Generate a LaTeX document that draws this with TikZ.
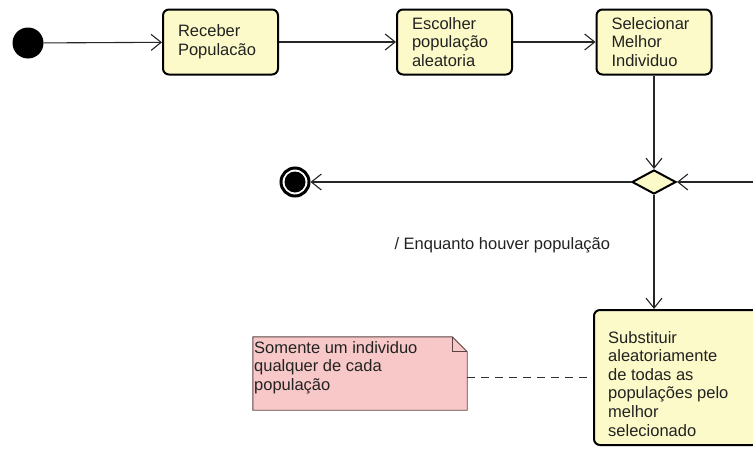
\documentclass[tikz,border=0pt]{standalone}
\usepackage{fontspec}
\setmainfont{Liberation Sans}
\usetikzlibrary{arrows.meta,shapes.geometric}

\definecolor{actfill}{HTML}{FCFAC8}
\definecolor{notefill}{HTML}{F8C8C8}
\definecolor{noteline}{HTML}{5A4444}
\definecolor{txt}{HTML}{222222}

\tikzset{
  lbl/.style={font=\fontsize{16.5}{18.6}\selectfont, text=txt},
  action/.style={lbl, draw=black, line width=2pt, fill=actfill, rounded corners=6pt,
    minimum width=115pt, minimum height=65pt, inner xsep=15pt, inner ysep=0pt,
    text width=85pt, align=left},
  flow/.style={draw=black!85, line width=1.1pt, -{Straight Barb[length=10pt,width=16pt,line width=1.1pt]}},
  plain/.style={lbl, inner sep=0pt, align=left},
}

\begin{document}
\begin{tikzpicture}[x=1pt, y=-1pt]
  \useasboundingbox (0,0) rectangle (753,450);
  \clip (0,0) rectangle (753,450);

  % initial and final states
  \node[circle, fill=black, minimum size=31pt, inner sep=0pt] (start) at (28,43) {};
  \node[circle, draw=black, line width=3pt, fill=white, minimum size=28pt, inner sep=0pt,
        path picture={\fill[black] (path picture bounding box.center) circle (10.5pt);}]
        (final) at (295,182) {};

  % actions
  \node[action] (receber) at (220.5,42) {Receber\\Populacão};
  \node[action] (escolher) at (454.5,42) {Escolher\\população\\aleatoria};
  \node[action] (selecionar) at (654,42) {Selecionar\\Melhor\\Individuo};
  \node[action, minimum width=176pt, minimum height=135pt] (subst) at (682,377.5) {};
  \node[plain, anchor=north west] (substtxt) at (608,331)
    {Substituir\\aleatoriamente\\de todas as\\populações pelo\\melhor\\selecionado};

  % decision
  \node[diamond, draw=black, line width=2pt, fill=actfill, minimum width=44pt,
        minimum height=24pt, inner sep=0pt] (dec) at (654,182) {};
  \coordinate (loopin) at (765,182);

  % note
  \node[minimum width=214pt, minimum height=73pt, inner sep=0pt] (note) at (360,373.5) {};
  \draw[noteline, line width=0.9pt, fill=notefill]
    (note.north west) -- ([xshift=-15pt]note.north east)
    -- ([yshift=-15pt]note.north east) -- (note.south east)
    -- (note.south west) -- cycle;
  \draw[noteline, line width=0.9pt]
    ([xshift=-15pt]note.north east) -- ([xshift=-15pt,yshift=-15pt]note.north east)
    -- ([yshift=-15pt]note.north east);
  \node[plain, anchor=north west] (notetxt) at (254,341)
    {Somente um individuo\\qualquer de cada\\população};

  % control flow
  \draw[flow] (start) -- (receber);
  \draw[flow] (receber) -- (escolher);
  \draw[flow] (escolher) -- (selecionar);
  \draw[flow] (selecionar) -- (dec);
  \draw[flow] (loopin) -- (dec);
  \draw[flow] (dec) -- (final);
  \draw[flow] (dec.south) -- node[lbl, pos=0.5, anchor=base east, xshift=-40pt, yshift=2.5pt]
    {/ Enquanto houver população} (dec.south |- subst.north);

  % note anchor line
  \draw[black!80, line width=1pt, dash pattern=on 8pt off 6pt]
    (note.east |- subst.west) -- ([xshift=-6pt]subst.west);
\end{tikzpicture}
\end{document}
